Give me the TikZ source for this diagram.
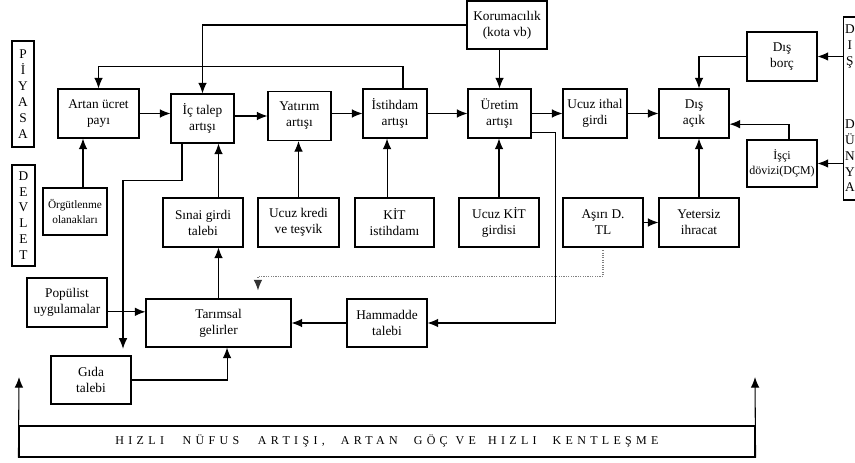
\documentclass[tikz,border=0pt]{standalone}
\usepackage{fontspec}
\setmainfont{Liberation Serif}
\usetikzlibrary{arrows.meta}

\begin{document}
\begin{tikzpicture}[x=0.75pt, y=-0.75pt, >={Latex[length=8pt,width=6.5pt]},
        font=\fontsize{10}{12}\selectfont,
        box/.style={draw, thick, align=center, inner sep=1pt, minimum width=60pt, minimum height=36.75pt},
        narrowbox/.style={box, minimum width=47.25pt},
        sidebox/.style={draw, thick, align=center, inner sep=0pt}]
        \useasboundingbox (0,0) rectangle (855,463);

        % Side labels
        \node[sidebox, minimum width=16.5pt, minimum height=79.5pt] (piyasa) at (23,94) {P\\İ\\Y\\A\\S\\A};
        \node[sidebox, minimum width=17.25pt, minimum height=75.75pt, font=\fontsize{10}{11.85}\selectfont] (devlet) at (23.5,215.5) {D\\E\\V\\L\\E\\T};
        \node[sidebox, anchor=west, minimum width=9.4pt, minimum height=137.25pt, font=\fontsize{10}{11.8}\selectfont] (disdunya) at (843,108.5) {D\\I\\Ş\\[36pt]D\\Ü\\N\\Y\\A};

        % Top row
        \node[box, minimum width=60.75pt] (artan) at (98.5,113.5) {Artan ücret\\payı};
        \node[narrowbox] (ictalep) at (202.5,118.5) {İç talep\\artışı};
        \node[narrowbox] (yatirim) at (299.5,116) {Yatırım\\artışı};
        \node[narrowbox, minimum width=48pt] (istihdam) at (395,113.5) {İstihdam\\artışı};
        \node[narrowbox] (uretim) at (499.5,113.5) {Üretim\\artışı};
        \node[narrowbox, minimum width=48pt] (ucuzithal) at (595,113.5) {Ucuz ithal\\girdi};
        \node[box, minimum width=52.5pt] (disacik) at (694,113.5) {Dış\\açık};
        \node[box, minimum height=36pt] (koruma) at (507,25) {Korumacılık\\(kota vb)};
        \node[box, minimum width=52.5pt] (disborc) at (782,56.5) {Dış\\borç};
        \node[box, minimum width=52.5pt, minimum height=35.25pt, font=\fontsize{9}{11}\selectfont] (isci) at (782,163.5) {İşçi\\dövizi(DÇM)};

        % Middle row
        \node[box, minimum width=48pt, minimum height=35.25pt, font=\fontsize{8.5}{11}\selectfont] (orgut) at (75,211.5) {Örgütlenme\\olanakları};
        \node[box] (sinai) at (203,222.5) {Sınai girdi\\talebi};
        \node[box, minimum width=60.75pt] (kredi) at (298.5,222.5) {Ucuz kredi\\ve teşvik};
        \node[box, minimum width=59.25pt] (kitist) at (394.5,222.5) {KİT\\istihdamı};
        \node[box] (kitgirdi) at (499,222.5) {Ucuz KİT\\girdisi};
        \node[box] (asiri) at (603,222.5) {Aşırı D.\\TL};
        \node[box] (yetersiz) at (699,222.5) {Yetersiz\\ihracat};

        % Bottom row
        \node[box] (populist) at (67,302.5) {Popülist\\uygulamalar};
        \node[box, minimum width=108.75pt, minimum height=36pt] (tarimsal) at (218.5,323) {Tarımsal\\gelirler};
        \node[box, minimum height=36pt] (hammadde) at (387,323) {Hammadde\\talebi};
        \node[box, minimum height=36pt] (gida) at (91,380) {Gıda\\talebi};

        % Population band
        \node[draw, thick, minimum width=552pt, minimum height=23.25pt, inner sep=0pt, font=\fontsize{9}{10}\selectfont] (nufus) at (387,441.5)
            {\raisebox{2.5pt}{\addfontfeatures{LetterSpace=36}HIZLI\hspace{14pt}NÜFUS\hspace{14pt}ARTIŞI,\hspace{12pt}ARTAN\hspace{12pt}GÖÇ\hspace{6pt}VE\hspace{9pt}HIZLI\hspace{12pt}KENTLEŞME}};
        \coordinate (nufusL) at (19,377);
        \coordinate (nufusR) at (755,377);

        % Main chain
        \draw[->, thick] (artan.east) -- (artan.east -| ictalep.west);
        \draw[->, thick] (yatirim.west -| ictalep.east) -- (yatirim.west);
        \draw[->, thick] (istihdam.west -| yatirim.east) -- (istihdam.west);
        \draw[->, thick] (istihdam.east) -- (uretim.west);
        \draw[->, thick] (uretim.east) -- (ucuzithal.west);
        \draw[->, thick] (ucuzithal.east) -- (disacik.west);

        % Protection and feedback
        \draw[->, thick] (koruma.south -| uretim.north) -- (uretim.north);
        \draw[->, thick] (koruma.west) -| (ictalep.north);
        \draw[->, thick] ([xshift=6pt]istihdam.north) -- ++(0,-22) -| (artan.north);

        % External world
        \draw[->, thick] (disborc.east -| disdunya.west) -- (disborc.east);
        \draw[->, thick] (isci.east -| disdunya.west) -- (isci.east);
        \draw[->, thick] (disborc.west) -| (disacik.north -| yetersiz.north);
        \draw[->, thick] ([xshift=5.25pt]isci.north) |- ([yshift=-8pt]disacik.east);
        \draw[->, thick] (yetersiz.north) -- (yetersiz.north |- disacik.south);
        \draw[->, thick] (asiri.east) -- (yetersiz.west);

        % Inputs from below
        \draw[->, thick] ([xshift=6pt]orgut.north) -- ([xshift=6pt]orgut.north |- artan.south);
        \draw[->, thick] (tarimsal.north) -- (tarimsal.north |- sinai.south);
        \draw[->, thick] (tarimsal.north |- sinai.north) -- (tarimsal.north |- ictalep.south);
        \draw[->, thick] (kredi.north) -- (kredi.north |- yatirim.south);
        \draw[->, thick] ([xshift=-5.6pt]kitist.north) -- ([xshift=-5.6pt]kitist.north |- istihdam.south);
        \draw[->, thick] (kitgirdi.north) -- (kitgirdi.north |- uretim.south);

        % Agricultural incomes
        \draw[->, thick] ([yshift=-7pt]populist.east) -- ([yshift=-7pt]populist.east -| tarimsal.west);
        \draw[->, thick] (hammadde.west) -- (tarimsal.east);
        \draw[->, thick] (gida.east) -| ([xshift=6.4pt]tarimsal.south);
        \draw[->, thick] ([yshift=-14pt]uretim.east) -- ++(24,0) |- (hammadde.east);
        \draw[->, thick, shorten >=5pt] ([xshift=-15.4pt]ictalep.south) -- ++(0,37) -| ([xshift=24pt]gida.north);
        \draw[-{Latex[length=8pt,width=6.5pt,color=black!80]}, thick, gray, densely dotted, shorten <=2pt, shorten >=6pt] (asiri.south) -- ++(0,29) -| ([xshift=29.6pt]tarimsal.north);

        % Population
        \draw[->, thick] (nufus.south west) -- (nufusL);
        \draw[->, thick] (nufus.south east) -- (nufusR);
    \end{tikzpicture}
\end{document}
